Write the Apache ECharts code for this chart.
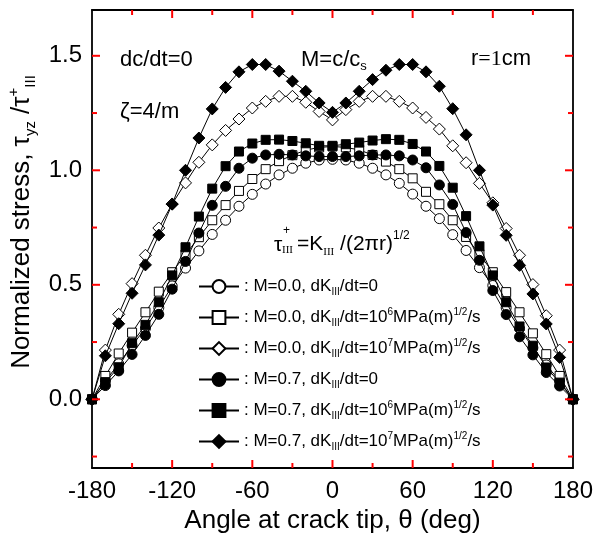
<!DOCTYPE html>
<html>
<head>
<meta charset="utf-8">
<script src="https://cdn.jsdelivr.net/npm/echarts@6/dist/echarts.min.js"></script>
<style>
  html, body { margin: 0; padding: 0; background: #fff; }
  #box1 { width: 596px; height: 541px; }
</style>
</head>
<body>
<div id="box1"></div>
<script>
// 角度 (deg)
var angles = [-180, -170, -160, -150, -140, -130, -120, -110, -100, -90, -80, -70, -60, -50, -40, -30, -20, -10,
  0, 10, 20, 30, 40, 50, 60, 70, 80, 90, 100, 110, 120, 130, 140, 150, 160, 170, 180];

// M=0.0
var m0k0 = [0, 0.08, 0.155, 0.235, 0.31, 0.40, 0.495, 0.573, 0.648, 0.72, 0.782, 0.843, 0.895, 0.94, 0.98, 1.009, 1.031, 1.045,
  1.048, 1.045, 1.031, 1.009, 0.98, 0.943, 0.896, 0.843, 0.789, 0.719, 0.65, 0.575, 0.497, 0.40, 0.31, 0.225, 0.15, 0.08, 0];
var m0k6 = [0, 0.102, 0.2, 0.291, 0.38, 0.47, 0.555, 0.632, 0.708, 0.782, 0.848, 0.91, 0.962, 1.005, 1.04, 1.066, 1.088, 1.1,
  1.104, 1.1, 1.089, 1.067, 1.038, 1.005, 0.965, 0.906, 0.852, 0.782, 0.709, 0.633, 0.555, 0.468, 0.38, 0.288, 0.197, 0.102, 0];
var m0k7 = [0, 0.215, 0.371, 0.505, 0.629, 0.748, 0.853, 0.945, 1.035, 1.111, 1.174, 1.224, 1.272, 1.301, 1.323, 1.323, 1.297, 1.257,
  1.22, 1.265, 1.301, 1.323, 1.323, 1.301, 1.272, 1.231, 1.18, 1.107, 1.033, 0.943, 0.858, 0.746, 0.629, 0.501, 0.365, 0.215, 0];
// M=0.7
var m7k0 = [0, 0.06, 0.124, 0.196, 0.279, 0.371, 0.481, 0.602, 0.726, 0.847, 0.93, 1.009, 1.053, 1.067, 1.07, 1.067, 1.063, 1.06,
  1.06, 1.06, 1.063, 1.067, 1.067, 1.063, 1.045, 1.011, 0.936, 0.851, 0.728, 0.607, 0.475, 0.37, 0.273, 0.194, 0.117, 0.058, 0];
var m7k6 = [0, 0.075, 0.14, 0.245, 0.325, 0.424, 0.541, 0.664, 0.798, 0.92, 1.018, 1.082, 1.117, 1.133, 1.134, 1.128, 1.118, 1.107,
  1.107, 1.114, 1.121, 1.13, 1.136, 1.133, 1.115, 1.082, 1.019, 0.924, 0.8, 0.668, 0.541, 0.424, 0.318, 0.234, 0.139, 0.073, 0];
var m7k7 = [0, 0.19, 0.33, 0.463, 0.587, 0.717, 0.852, 1.0, 1.141, 1.268, 1.362, 1.43, 1.462, 1.462, 1.433, 1.389, 1.345, 1.294,
  1.253, 1.294, 1.345, 1.396, 1.437, 1.462, 1.462, 1.43, 1.367, 1.269, 1.155, 1.0, 0.848, 0.716, 0.585, 0.46, 0.329, 0.183, 0];

// 刻度 (主刻度 / 次刻度)
var xMajorTicks = [-120, -60, 0, 60, 120];
var xMinorTicks = [-150, -90, -30, 30, 90, 150];
var yMajorTicks = [0, 0.5, 1.0, 1.5];
var yMinorTicks = [-0.25, 0.25, 0.75, 1.25];

var seriesNames = ['s1', 's2', 's3', 's4', 's5', 's6'];
var legendLabels = [
  ': M=0.0, dK{sub|III}/dt=0',
  ': M=0.0, dK{sub|III}/dt=10{sup|6}MPa(m){sup|1/2}/s',
  ': M=0.0, dK{sub|III}/dt=10{sup|7}MPa(m){sup|1/2}/s',
  ': M=0.7, dK{sub|III}/dt=0',
  ': M=0.7, dK{sub|III}/dt=10{sup|6}MPa(m){sup|1/2}/s',
  ': M=0.7, dK{sub|III}/dt=10{sup|7}MPa(m){sup|1/2}/s'
];
var seriesValues = [m0k0, m0k6, m0k7, m7k0, m7k6, m7k7];
var symbols = ['circle', 'rect', 'diamond', 'circle', 'rect', 'diamond'];
var symbolSizes = [10, 9, 12, 10, 9, 12];
var filled = [false, false, false, true, true, true];

var FONT = 'Liberation Sans, Arial, sans-serif';
var SERIF = 'Liberation Serif, Times New Roman, serif';
var X_MIN = -180, X_MAX = 180, Y_MIN = -0.3, Y_MAX = 1.7;
var TICK_COLOR = 'red';

var myChart1 = echarts.init(document.getElementById('box1'));

// 坐标轴公共样式 (刻度由下面的 custom 系列画, 朝内)
function axisCommon(extra) {
  var base = {
    axisLine: { show: true, onZero: false, lineStyle: { color: '#000', width: 1.8 } },
    axisTick: { show: false },
    minorTick: { show: false },
    splitLine: { show: false }
  };
  for (var k in extra) base[k] = extra[k];
  return base;
}

var series = seriesValues.map(function (vals, i) {
  return {
    name: seriesNames[i],
    type: 'line',
    data: angles.map(function (a, j) { return [a, vals[j]]; }),
    symbol: symbols[i],
    symbolSize: symbolSizes[i],
    lineStyle: { color: '#000', width: 1 },
    itemStyle: { color: filled[i] ? '#000' : '#fff', borderColor: '#000', borderWidth: 1 },
    z: 2 + i
  };
});

// 四边朝内的刻度线: [值, 是否主刻度, 是否x轴]
var tickData = [];
xMajorTicks.forEach(function (v) { tickData.push([v, 1, 1]); });
xMinorTicks.forEach(function (v) { tickData.push([v, 0, 1]); });
yMajorTicks.forEach(function (v) { tickData.push([v, 1, 0]); });
yMinorTicks.forEach(function (v) { tickData.push([v, 0, 0]); });

series.push({
  name: 'ticks',
  type: 'custom',
  silent: true,
  clip: false,
  z: 20,
  data: tickData,
  encode: { x: 0, y: 1 },
  renderItem: function (params, api) {
    var v = api.value(0), len = api.value(1) ? 8 : 5, isX = api.value(2);
    var st = { stroke: TICK_COLOR, lineWidth: 2 };
    if (isX) {
      var b = api.coord([v, Y_MIN]), t = api.coord([v, Y_MAX]);
      return { type: 'group', children: [
        { type: 'line', shape: { x1: b[0], y1: b[1], x2: b[0], y2: b[1] - len }, style: st },
        { type: 'line', shape: { x1: t[0], y1: t[1], x2: t[0], y2: t[1] + len }, style: st }
      ] };
    }
    var l = api.coord([X_MIN, v]), r = api.coord([X_MAX, v]);
    return { type: 'group', children: [
      { type: 'line', shape: { x1: l[0], y1: l[1], x2: l[0] + len, y2: l[1] }, style: st },
      { type: 'line', shape: { x1: r[0], y1: r[1], x2: r[0] - len, y2: r[1] }, style: st }
    ] };
  }
});

var yFmt = function (v) {
  return Math.abs(v * 2 - Math.round(v * 2)) < 1e-6 ? v.toFixed(1) : '';
};

var option1 = {
  animation: false,
  grid: { left: 92, right: 21, top: 10, bottom: 73 },
  xAxis: [
    axisCommon({
      type: 'value', position: 'bottom', min: X_MIN, max: X_MAX, interval: 60,
      axisLabel: { show: true, color: '#000', fontSize: 24, fontFamily: FONT, margin: 11 },
      name: 'Angle at crack tip, θ (deg)', nameLocation: 'middle', nameGap: 38,
      nameTextStyle: { color: '#000', fontSize: 26, fontFamily: FONT }
    }),
    axisCommon({
      type: 'value', position: 'top', min: X_MIN, max: X_MAX, interval: 60,
      axisLabel: { show: false }
    })
  ],
  yAxis: [
    axisCommon({
      type: 'value', position: 'left', min: Y_MIN, max: Y_MAX, splitNumber: 4,
      axisLabel: { show: true, color: '#000', fontSize: 24, fontFamily: FONT, margin: 10, formatter: yFmt }
    }),
    axisCommon({
      type: 'value', position: 'right', min: Y_MIN, max: Y_MAX, splitNumber: 4,
      axisLabel: { show: false }
    })
  ],
  legend: {
    orient: 'vertical',
    left: 193,
    top: 271,
    itemWidth: 40,
    itemHeight: 16,
    itemGap: 10,
    selectedMode: false,
    data: seriesNames,
    formatter: function (name) { return legendLabels[seriesNames.indexOf(name)]; },
    textStyle: {
      color: '#000', fontSize: 17, fontFamily: FONT, lineHeight: 21,
      rich: {
        sub: { fontSize: 10, fontFamily: FONT, verticalAlign: 'bottom', lineHeight: 21 },
        sup: { fontSize: 10, fontFamily: FONT, verticalAlign: 'top', lineHeight: 21 }
      }
    }
  },
  graphic: [
    { type: 'text', x: 120, y: 60, style: { text: 'dc/dt=0', fontSize: 22, fontFamily: FONT, fill: '#000', verticalAlign: 'middle' } },
    { type: 'text', x: 120, y: 112, style: { text: 'ζ=4/m', fontSize: 22, fontFamily: FONT, fill: '#000', verticalAlign: 'middle' } },
    {
      type: 'text', x: 301, y: 60,
      style: {
        text: 'M=c/c{sub|s}', fontSize: 22, fontFamily: FONT, fill: '#000', verticalAlign: 'middle', lineHeight: 26,
        rich: { sub: { fontSize: 13, fontFamily: FONT, verticalAlign: 'bottom', lineHeight: 26 } }
      }
    },
    {
      type: 'text', x: 471, y: 59,
      style: {
        text: 'r{s|=1}cm', fontSize: 22, fontFamily: FONT, fill: '#000', verticalAlign: 'middle',
        rich: { s: { fontSize: 22, fontFamily: SERIF } }
      }
    },
    // τ+III = KIII/(2πr)^1/2
    { type: 'text', x: 274, y: 245, style: { text: 'τ', fontSize: 21, fontFamily: FONT, fill: '#000', verticalAlign: 'middle' } },
    { type: 'text', x: 283, y: 231, style: { text: '+', fontSize: 12, fontFamily: FONT, fill: '#000', verticalAlign: 'middle' } },
    { type: 'text', x: 282, y: 250, style: { text: 'III', fontSize: 11, fontFamily: SERIF, fill: '#000', verticalAlign: 'middle' } },
    {
      type: 'text', x: 297, y: 244,
      style: {
        text: '=K{sub|III} /(2πr){sup|1/2}', fontSize: 21, fontFamily: FONT, fill: '#000', verticalAlign: 'middle', lineHeight: 28,
        rich: {
          sub: { fontSize: 11, fontFamily: SERIF, verticalAlign: 'bottom', lineHeight: 28 },
          sup: { fontSize: 12, fontFamily: FONT, verticalAlign: 'top', lineHeight: 28 }
        }
      }
    },
    // y 轴标题
    {
      type: 'text', x: 22, y: 222, rotation: Math.PI / 2,
      style: {
        text: 'Normalized stress, τ{sub|yz} /τ{sup|+}{sub|III}', fontSize: 26, fontFamily: FONT, fill: '#000',
        align: 'center', verticalAlign: 'middle', lineHeight: 32,
        rich: {
          sub: { fontSize: 15, fontFamily: FONT, verticalAlign: 'bottom', lineHeight: 32 },
          sup: { fontSize: 15, fontFamily: FONT, verticalAlign: 'top', lineHeight: 32 }
        }
      }
    }
  ],
  series: series
};

myChart1.setOption(option1);
</script>
</body>
</html>
